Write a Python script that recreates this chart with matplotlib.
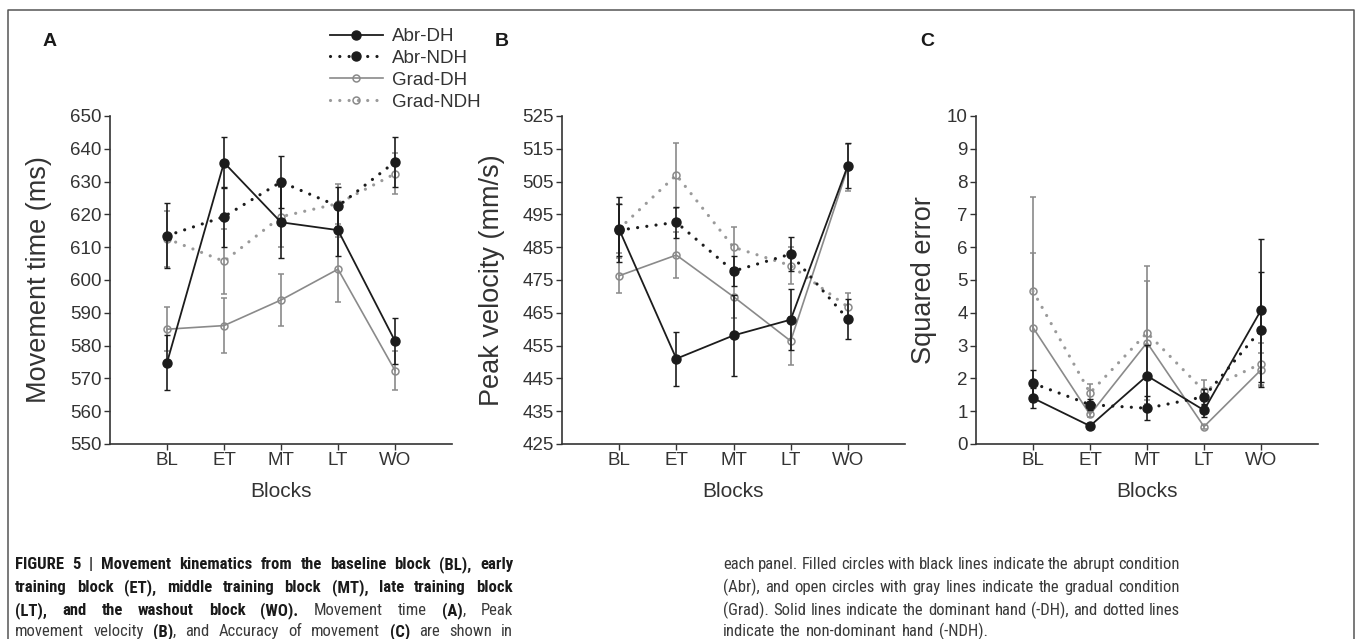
import numpy as np
import matplotlib
matplotlib.use("Agg")
import matplotlib.pyplot as plt
from matplotlib.lines import Line2D
from matplotlib import font_manager

plt.rcParams['font.family'] = ['Liberation Sans', 'DejaVu Sans']

# ---------------- data ----------------
blocks = ['BL', 'ET', 'MT', 'LT', 'WO']
series_names = ['Abr-DH', 'Abr-NDH', 'Grad-DH', 'Grad-NDH']

# Panel A: movement time (ms)
mt_abr_dh = [574.8, 635.8, 617.6, 615.2, 581.4]
mt_abr_dh_err = [8.3, 7.7, 11.0, 8.0, 7.1]
mt_abr_ndh = [613.5, 619.3, 629.9, 622.5, 636.0]
mt_abr_ndh_err = [9.9, 9.1, 7.9, 6.0, 7.7]
mt_grad_dh = [585.0, 586.1, 593.9, 603.3, 572.4]
mt_grad_dh_err = [6.7, 8.3, 7.9, 9.9, 5.9]
mt_grad_ndh = [612.6, 605.7, 619.3, 623.3, 632.4]
mt_grad_ndh_err = [8.5, 10.0, 9.1, 6.1, 6.3]

# Panel B: peak velocity (mm/s)
pv_abr_dh = [490.4, 451.0, 458.1, 462.9, 509.9]
pv_abr_dh_err = [10.0, 8.2, 12.3, 9.3, 6.8]
pv_abr_ndh = [490.2, 492.6, 477.7, 482.9, 463.1]
pv_abr_ndh_err = [8.0, 4.7, 4.6, 5.3, 6.0]
pv_grad_dh = [476.3, 482.6, 469.9, 456.4, 509.3]
pv_grad_dh_err = [5.3, 6.9, 6.5, 7.4, 7.2]
pv_grad_ndh = [490.6, 507.0, 485.0, 479.4, 466.8]
pv_grad_ndh_err = [7.5, 9.9, 6.3, 5.7, 4.3]

# Panel C: squared error
se_abr_dh = [1.40, 0.55, 2.08, 1.03, 4.08]
se_abr_dh_err = [0.30, 0.05, 0.95, 0.20, 2.18]
se_abr_ndh = [1.85, 1.20, 1.09, 1.44, 3.48]
se_abr_ndh_err = [0.41, 0.16, 0.36, 0.25, 1.75]
se_grad_dh = [3.55, 0.90, 3.09, 0.53, 2.26]
se_grad_dh_err = [2.28, 0.08, 1.88, 0.06, 0.50]
se_grad_ndh = [4.66, 1.56, 3.39, 1.62, 2.45]
se_grad_ndh_err = [2.88, 0.28, 2.04, 0.32, 0.64]

panel_labels = ['A', 'B', 'C']
y_labels = ['Movement time (ms)', 'Peak velocity (mm/s)', 'Squared error']
x_label = 'Blocks'
y_ranges = [(550, 650, 10), (425, 525, 10), (0, 10, 1)]

# ---------------- layout ----------------
W, H = 1357, 639
fig = plt.figure(figsize=(W / 100, H / 100), dpi=100)


def fx(x):
    return x / W


def fy(y):
    return 1 - y / H


BLACK = '#1c1c1c'
GRAY = '#8a8a8a'
GRAY_DOT = '#9a9a9a'
TXT = '#333333'
DOTS = (0, (0.01, 2.9))

styles = [
    dict(color=BLACK, ls='-', lw=1.3, marker='o', ms=6.5, mfc=BLACK, mec=BLACK, mew=1.0, ecolor=BLACK),
    dict(color=BLACK, ls=DOTS, lw=2.3, marker='o', ms=6.5, mfc=BLACK, mec=BLACK, mew=1.0, ecolor=BLACK),
    dict(color=GRAY, ls='-', lw=1.2, marker='o', ms=5.0, mfc='none', mec=GRAY, mew=1.1, ecolor=GRAY),
    dict(color=GRAY_DOT, ls=DOTS, lw=2.3, marker='o', ms=5.0, mfc='none', mec=GRAY, mew=1.1, ecolor=GRAY),
]

panels = [
    ([mt_abr_dh, mt_abr_ndh, mt_grad_dh, mt_grad_ndh],
     [mt_abr_dh_err, mt_abr_ndh_err, mt_grad_dh_err, mt_grad_ndh_err]),
    ([pv_abr_dh, pv_abr_ndh, pv_grad_dh, pv_grad_ndh],
     [pv_abr_dh_err, pv_abr_ndh_err, pv_grad_dh_err, pv_grad_ndh_err]),
    ([se_abr_dh, se_abr_ndh, se_grad_dh, se_grad_ndh],
     [se_abr_dh_err, se_abr_ndh_err, se_grad_dh_err, se_grad_ndh_err]),
]

ax_left_px = [110, 562, 976]
ax_width_px = [342, 343, 342]
ylabel_x = [-0.17, -0.166, -0.114]
panel_label_x = [50, 502, 927]

x = np.arange(1, len(blocks) + 1)
legend_handles = None

for i, (vals, errs) in enumerate(panels):
    ax = fig.add_axes([fx(ax_left_px[i]), fy(444), ax_width_px[i] / W, 328 / H])
    handles = [None] * 4
    for k in [2, 3, 0, 1]:  # gray first, black on top
        st = styles[k]
        cont = ax.errorbar(x, vals[k], yerr=errs[k], color=st['color'], ls=st['ls'], lw=st['lw'],
                           marker=st['marker'], ms=st['ms'], mfc=st['mfc'], mec=st['mec'],
                           mew=st['mew'], ecolor=st['ecolor'], elinewidth=1.2, capsize=2.5,
                           capthick=1.1, zorder=3 if k < 2 else 2)
        cont[0].set_dash_capstyle('round')
        handles[k] = cont[0]
    if legend_handles is None:
        legend_handles = handles
    lo, hi, step = y_ranges[i]
    ax.set_ylim(lo, hi)
    ax.set_yticks(np.arange(lo, hi + step / 2, step))
    ax.set_xlim(0, 6)
    ax.set_xticks(x, labels=blocks)
    for s in ['top', 'right']:
        ax.spines[s].set_visible(False)
    for s in ['left', 'bottom']:
        ax.spines[s].set_color('#333333')
        ax.spines[s].set_linewidth(1.2)
    ax.tick_params(axis='both', direction='out', length=4, width=1.0, color='#333333',
                   labelsize=13.5, labelcolor=TXT, pad=2)
    ax.set_ylabel(y_labels[i], fontsize=19.5, color=TXT)
    ax.yaxis.set_label_coords(ylabel_x[i], 0.5)
    ax.set_xlabel(x_label, fontsize=15, color=TXT)
    ax.xaxis.set_label_coords(0.5, -0.115)
    ax.patch.set_visible(False)
    fig.text(fx(panel_label_x[i]), fy(42), panel_labels[i], fontsize=14, fontweight='bold',
             color='#1a1a1a', ha='center', va='center')

fig.legend(legend_handles, series_names, loc='upper left', bbox_to_anchor=(fx(330), fy(28)),
           frameon=False, fontsize=13.5, handlelength=2.8, handletextpad=0.5,
           labelspacing=0.25, borderpad=0, borderaxespad=0, labelcolor=TXT)

# border box
fig.add_artist(Line2D([fx(8), fx(8), fx(1354), fx(1354)], [0, fy(10), fy(10), 0],
                      transform=fig.transFigure, color='#555555', lw=1.1))

# ---------------- caption ----------------
def pick_caption_font():
    names = {f.name for f in font_manager.fontManager.ttflist}
    for cand in ['Liberation Sans Narrow', 'Roboto Condensed', 'Open Sans Condensed',
                 'Noto Sans Condensed', 'Arial Narrow', 'Nimbus Sans Narrow', 'DejaVu Sans Condensed']:
        if cand in names:
            return [cand, 'Liberation Sans'], 'normal'
    for f in font_manager.fontManager.ttflist:
        if f.name in ('DejaVu Sans', 'Noto Sans', 'Open Sans', 'Roboto') and \
                str(f.stretch) in ('condensed', 'semi-condensed', '300', '400'):
            return [f.name], 'condensed'
    return ['Liberation Sans'], 'normal'


cap_family, cap_stretch = pick_caption_font()

left_lines = [
    [("FIGURE 5 | Movement kinematics from the baseline block (BL), early", True)],
    [("training block (ET), middle training block (MT), late training block", True)],
    [("(LT), and the washout block (WO).", True), (" Movement time ", False), ("(A)", True), (", Peak", False)],
    [("movement velocity ", False), ("(B)", True), (", and Accuracy of movement ", False), ("(C)", True),
     (" are shown in", False)],
]
right_lines = [
    [("each panel. Filled circles with black lines indicate the abrupt condition", False)],
    [("(Abr), and open circles with gray lines indicate the gradual condition", False)],
    [("(Grad). Solid lines indicate the dominant hand (-DH), and dotted lines", False)],
    [("indicate the non-dominant hand (-NDH).", False)],
]
baselines = [569, 592, 615, 636]
col_left = (15, 513)
col_right = (723, 1180)

renderer = fig.canvas.get_renderer()


def split_words(segs):
    words = [[]]
    for text, bold in segs:
        parts = text.split(' ')
        for j, p in enumerate(parts):
            if j > 0:
                words.append([])
            if p:
                words[-1].append((p, bold))
    return [w for w in words if w]


def make_text(text, bold, size, yb):
    return fig.text(0, fy(yb), text, fontsize=size, family=cap_family, fontstretch=cap_stretch,
                    fontweight='bold' if bold else 'normal',
                    color='#1a1a1a' if bold else '#3a3a3a', va='baseline', ha='left')


def natural_width(segs, size):
    tot = 0
    words = split_words(segs)
    for w in words:
        for text, bold in w:
            t = make_text(text, bold, size, 0)
            tot += t.get_window_extent(renderer).width
            t.remove()
    return tot, len(words)


# choose the caption size so every justified line still has room between words
cap_size = 14.0
while cap_size > 8:
    ok = True
    for lines, (a, b) in ((left_lines, col_left), (right_lines, col_right)):
        check = lines if lines is left_lines else lines[:3]
        for segs in check:
            w, n = natural_width(segs, cap_size)
            if w + (n - 1) * cap_size * 100 / 72 * 0.2 > (b - a):
                ok = False
    if ok:
        break
    cap_size -= 0.25


def draw_line(segs, x0, x1, yb, justify=True):
    words = split_words(segs)
    objs, widths = [], []
    for w in words:
        wo, ww = [], 0
        for text, bold in w:
            t = make_text(text, bold, cap_size, yb)
            bw = t.get_window_extent(renderer).width
            wo.append((t, bw))
            ww += bw
        objs.append(wo)
        widths.append(ww)
    if justify and len(words) > 1:
        gap = (x1 - x0 - sum(widths)) / (len(words) - 1)
    else:
        gap = cap_size * 100 / 72 * 0.3
    xc = x0
    for wo, ww in zip(objs, widths):
        for t, w in wo:
            t.set_x(fx(xc))
            xc += w
        xc += gap


for k, segs in enumerate(left_lines):
    draw_line(segs, col_left[0], col_left[1], baselines[k], justify=True)
for k, segs in enumerate(right_lines):
    draw_line(segs, col_right[0], col_right[1], baselines[k], justify=(k < 3))

fig.savefig('out.png', dpi=100)
